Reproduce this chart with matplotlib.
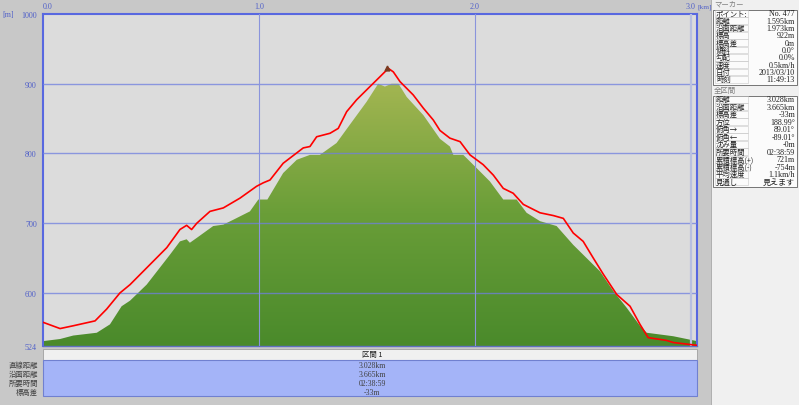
import numpy as np
import matplotlib
matplotlib.use("Agg")
import matplotlib.pyplot as plt
from matplotlib.colors import LinearSegmentedColormap
from matplotlib.patches import Rectangle

plt.rcParams['font.family'] = ['Noto Sans CJK JP', 'DejaVu Sans']

# GPS track elevation (red) and terrain profile (green), km / m
track_km = [0.0, 0.079, 0.14, 0.241, 0.295, 0.356, 0.403, 0.48, 0.573, 0.634,
            0.665, 0.688, 0.712, 0.773, 0.835, 0.912, 0.989, 1.02, 1.051, 1.112,
            1.205, 1.236, 1.267, 1.329, 1.367, 1.406, 1.452, 1.514, 1.56, 1.599,
            1.622, 1.653, 1.714, 1.761, 1.807, 1.838, 1.884, 1.931, 1.977, 2.038,
            2.085, 2.131, 2.177, 2.224, 2.301, 2.363, 2.409, 2.455, 2.501, 2.548,
            2.594, 2.656, 2.718, 2.764, 2.802, 2.887, 2.918, 3.028]
track_m = [558, 549, 553, 560, 577, 600, 612, 636, 665, 691,
           697, 691, 700, 717, 722, 736, 753, 758, 762, 786,
           808, 810, 824, 829, 836, 860, 877, 896, 910, 922,
           917, 903, 884, 865, 848, 833, 822, 817, 798, 784,
           769, 750, 743, 727, 715, 711, 707, 686, 674, 650,
           627, 598, 581, 555, 536, 532, 529, 525]

ground_km = [0.0, 0.079, 0.14, 0.249, 0.31, 0.364, 0.403, 0.48, 0.588, 0.634,
             0.665, 0.68, 0.712, 0.788, 0.835, 0.881, 0.958, 0.997, 1.039, 1.112,
             1.175, 1.236, 1.282, 1.359, 1.42, 1.498, 1.552, 1.583, 1.614, 1.646,
             1.684, 1.761, 1.838, 1.884, 1.9, 1.946, 2.008, 2.069, 2.131, 2.193,
             2.239, 2.301, 2.378, 2.455, 2.517, 2.579, 2.64, 2.702, 2.764, 2.795,
             2.918, 3.028]
ground_m = [531, 534, 539, 543, 555, 581, 589, 612, 655, 674,
            677, 672, 679, 696, 698, 705, 717, 734, 734, 772,
            791, 798, 798, 815, 841, 874, 900, 896, 900, 900,
            881, 855, 821, 810, 798, 798, 779, 760, 734, 734,
            715, 703, 696, 669, 650, 631, 603, 579, 553, 543,
            538, 531]

x_ticks = [0, 1, 2, 3]
x_tick_labels = ['0.0', '1.0', '2.0', '3.0']
y_ticks = [524, 600, 700, 800, 900, 1000]
total_km = 3.028
marker_km, marker_m = 1.595, 922

section_labels = ['直線距離', '沿面距離', '所要時間', '標高差']
section_values = ['3.028km', '3.665km', '02:38:59', '-33m']

marker_labels = ['ポイント:', '距離', '沿面距離', '標高', '標高差', '傾斜', '勾配', '速度', '日付', '時刻']
marker_values = ['No. 477', '1.595km', '1.973km', '922m', '0m', '0.0°', '0.0%', '0.5km/h',
                 '2013/03/10', '11:49:13']

total_labels = ['距離', '沿面距離', '標高差', '方位', '俯角→', '俯角←', '沈み量', '所要時間',
                '累積標高(+)', '累積標高(-)', '平均速度', '見通し']
total_values = ['3.028km', '3.665km', '-33m', '188.99°', '89.01°', '-89.01°', '-0m', '02:38:59',
                '721m', '-754m', '1.1km/h', '見えます']

W, H = 799, 406
blue = '#5060c8'
num_font = ['Liberation Serif', 'Noto Sans CJK JP']

fig = plt.figure(figsize=(W / 100, H / 100), dpi=100, facecolor='#c8c8c8')

# pixel-space layer for the panels and tables
bg = fig.add_axes([0, 0, 1, 1])
bg.set_xlim(0, W)
bg.set_ylim(H, 0)
bg.axis('off')


def info_table(top, labels, values, step):
    bg.add_patch(Rectangle((713, top), 84, step * len(labels) + 1.5, fc='#fbfbfb', ec='#606060', lw=0.6))
    for i, (lab, val) in enumerate(zip(labels, values)):
        y = top + 3.8 + i * step
        bg.add_patch(Rectangle((714.5, y - step / 2 + 0.4), 33, step - 0.8, fc='none', ec='#c8c8c8', lw=0.4))
        bg.text(716, y, lab, fontsize=5.3, color='#202020', va='center')
        bg.text(795, y, val, fontsize=5.8, color='#202020', va='center', ha='right', family=num_font)


# right info panel
bg.add_patch(Rectangle((711, 0), 88, H, fc='#f0f0f0', ec='#a8a8a8', lw=0.6, zorder=0.5))
bg.text(714, 4.5, 'マーカー', fontsize=5.3, color='#808080', va='center')
info_table(10.5, marker_labels, marker_values, 7.35)
bg.text(714, 90.5, '全区間', fontsize=5.3, color='#808080', va='center')
info_table(96.5, total_labels, total_values, 7.5)

# section table under the profile
bg.add_patch(Rectangle((43, 350), 654, 11, fc='#f0f0f0', ec='#a0a0a0', lw=0.6))
bg.text(372, 355.5, '区間 1', fontsize=5.3, color='#202020', va='center', ha='center')
bg.add_patch(Rectangle((43, 361), 654, 36, fc='#a4b4f8', ec='#7080d0', lw=0.8))
for i, (lab, val) in enumerate(zip(section_labels, section_values)):
    y = 366 + i * 9
    bg.text(38, y, lab, fontsize=5.3, color='#404040', va='center', ha='right')
    bg.text(372, y, val, fontsize=5.6, color='#404040', va='center', ha='center', family=num_font)

bg.text(2, 15, '[m]', fontsize=5.8, color=blue, va='center', family=num_font)
bg.text(697.5, 7.5, '[km]', fontsize=5.3, color=blue, va='center', family=num_font, zorder=5)

# profile
ax = fig.add_axes([43 / W, (H - 347) / H, 654 / W, 332 / H])
ax.set_facecolor('#dcdcdc')

poly = ax.fill_between(ground_km, ground_m, y_ticks[0], facecolor='none', edgecolor='none')
cmap = LinearSegmentedColormap.from_list('ground', ['#4a8a2b', '#6a9e38', '#a4b652'])
img = ax.imshow(np.linspace(0, 1, 256).reshape(-1, 1), extent=[0, total_km, 524, 905],
                origin='lower', cmap=cmap, aspect='auto', zorder=2)
img.set_clip_path(poly.get_paths()[0], transform=ax.transData)

for v in y_ticks[1:-1]:
    ax.axhline(v, color='#6f7fe0', lw=1, alpha=0.75, zorder=3)
for v in x_ticks[1:3]:
    ax.axvline(v, color='#8a94dc', lw=0.8, zorder=3)
ax.axvline(x_ticks[3], color='#b8c0e0', lw=1.6, zorder=3)

ax.plot(track_km, track_m, color='#ff0000', lw=1.2, zorder=4)
ax.plot(marker_km, marker_m, marker='^', color='#7a3a20', ms=3.5, zorder=5)

ax.set_xlim(0, total_km)
ax.set_ylim(524, 1000)

ax.xaxis.tick_top()
ax.set_xticks(x_ticks, x_tick_labels)
ax.set_yticks(y_ticks, [str(v) for v in y_ticks])
ax.tick_params(length=0, labelsize=5.8, labelcolor=blue)
ax.tick_params(axis='x', pad=3)
ax.tick_params(axis='y', pad=4.5)
for lbl in ax.get_xticklabels() + ax.get_yticklabels():
    lbl.set_family(num_font)
ax.get_xticklabels()[0].set_horizontalalignment('left')

for side in ['left', 'top', 'right']:
    ax.spines[side].set_color('#5868e0')
    ax.spines[side].set_linewidth(1.5)
ax.spines['bottom'].set_color('#6070c0')
ax.spines['bottom'].set_linewidth(1)

plt.savefig('out.png', dpi=100, facecolor=fig.get_facecolor())
